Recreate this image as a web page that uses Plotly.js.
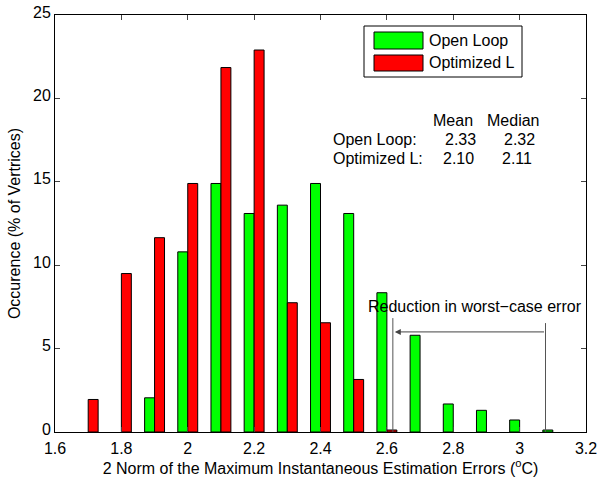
<!DOCTYPE html>
<html>
<head>
<meta charset="utf-8">
<script src="https://cdn.plot.ly/plotly-3.0.1.min.js"></script>
<style>html,body{margin:0;padding:0;background:#fff;}#chart{width:597px;height:481px;}</style>
</head>
<body>
<div id="chart"></div>
<script>
// Data
const binCenters = [1.7, 1.8, 1.9, 2.0, 2.1, 2.2, 2.3, 2.4, 2.5, 2.6, 2.7, 2.8, 2.9, 3.0, 3.1];
const openLoop   = [null, null, 2.05, 10.8, 14.9, 13.1, 13.6, 14.9, 13.1, 8.35, 5.8, 1.68, 1.3, 0.72, 0.12];
const optimizedL = [1.95, 9.5, 11.65, 14.9, 21.85, 22.9, 7.75, 6.55, 3.15, 0.12, null, null, null, null, null];
const seriesNames = ['Open Loop', 'Optimized L'];
const xTickVals = [1.6, 1.8, 2.0, 2.2, 2.4, 2.6, 2.8, 3.0, 3.2];
const xTickText = ['1.6', '1.8', '2', '2.2', '2.4', '2.6', '2.8', '3', '3.2'];
const statHeader = ['Mean', 'Median'];
const statRows = ['Open Loop:', 'Optimized L:'];
const statMean = ['2.33', '2.10'];
const statMedian = ['2.32', '2.11'];

const W = 597, H = 481;
const M = {l: 55, r: 11, t: 15, b: 49};
const pw = W - M.l - M.r, ph = H - M.t - M.b;
const px = x => (x - M.l) / pw;          // pixel -> paper x
const py = y => (M.t + ph - y) / ph;     // pixel -> paper y
const FONT = 'Arial, "Liberation Sans", Helvetica, sans-serif';
const FS = 16;

const traces = [
  {type: 'bar', name: seriesNames[0], x: binCenters, y: openLoop,
   marker: {color: '#00ff00', line: {color: '#000', width: 1}}},
  {type: 'bar', name: seriesNames[1], x: binCenters, y: optimizedL,
   marker: {color: '#ff0000', line: {color: '#000', width: 1}}}
];

const txt = (text, x, y, anchor) => ({
  text: text, xref: 'paper', yref: 'paper', x: px(x), y: py(y),
  xanchor: anchor || 'left', yanchor: 'middle', showarrow: false,
  font: {family: FONT, size: FS, color: '#000'}
});

const annotations = [
  txt(statHeader[0], 431, 120), txt(statHeader[1], 485, 120),
  txt(statRows[0], 331, 139), txt(statMean[0], 443, 139), txt(statMedian[0], 502, 139),
  txt(statRows[1], 331, 158), txt(statMean[1], 441, 158), txt(statMedian[1], 500, 158),
  txt(seriesNames[0], 427, 41), txt(seriesNames[1], 427, 63),
  txt('Reduction in worst\u2212case error', 584, 306, 'right'),
  {x: 2.624, y: 6.0, ax: 3.078, ay: 6.0, xref: 'x', yref: 'y', axref: 'x', ayref: 'y',
   text: '', showarrow: true, arrowhead: 2, arrowsize: 1.2, arrowwidth: 1, arrowcolor: '#444', standoff: 0}
];

const shapes = [
  // manual legend
  {type: 'rect', xref: 'paper', yref: 'paper', x0: px(364), x1: px(522), y0: py(26), y1: py(77),
   line: {color: '#000', width: 1}, fillcolor: '#fff', layer: 'above'},
  {type: 'rect', xref: 'paper', yref: 'paper', x0: px(374), x1: px(423), y0: py(32), y1: py(49),
   line: {color: '#000', width: 1}, fillcolor: '#00ff00', layer: 'above'},
  {type: 'rect', xref: 'paper', yref: 'paper', x0: px(374), x1: px(423), y0: py(55), y1: py(71),
   line: {color: '#000', width: 1}, fillcolor: '#ff0000', layer: 'above'},
  // vertical markers for the worst-case error
  {type: 'line', xref: 'x', yref: 'y', x0: 2.618, x1: 2.618, y0: 0, y1: 6.83, line: {color: '#555', width: 1}},
  {type: 'line', xref: 'x', yref: 'y', x0: 3.078, x1: 3.078, y0: 0, y1: 6.53, line: {color: '#555', width: 1}}
];

const layout = {
  width: W, height: H,
  margin: M,
  paper_bgcolor: '#fff', plot_bgcolor: '#fff',
  font: {family: FONT, size: FS, color: '#000'},
  showlegend: false,
  barmode: 'group', bargap: 0.4, bargroupgap: 0,
  xaxis: {range: [1.6, 3.2], tickmode: 'array', tickvals: xTickVals, ticktext: xTickText,
          ticks: 'inside', ticklen: 5, ticklabeloverflow: 'allow',
          showline: true, linecolor: '#000', linewidth: 1, mirror: 'ticks', showgrid: false, zeroline: false,
          tickfont: {size: FS}, ticklabelstandoff: 2,
          title: {text: '2 Norm of the Maximum Instantaneous Estimation Errors (<sup>o</sup>C)', font: {size: FS}, standoff: 6}},
  yaxis: {range: [0, 25], dtick: 5, ticks: 'inside', ticklen: 5, ticklabeloverflow: 'allow',
          showline: true, linecolor: '#000', linewidth: 1, mirror: 'ticks', showgrid: false, zeroline: false,
          tickfont: {size: FS}, ticklabelshift: -3,
          title: {text: 'Occurence (% of Vertrices)', font: {size: FS}, standoff: 8}},
  annotations: annotations,
  shapes: shapes
};

Plotly.newPlot('chart', traces, layout, {displayModeBar: false, staticPlot: true});
</script>
</body>
</html>
